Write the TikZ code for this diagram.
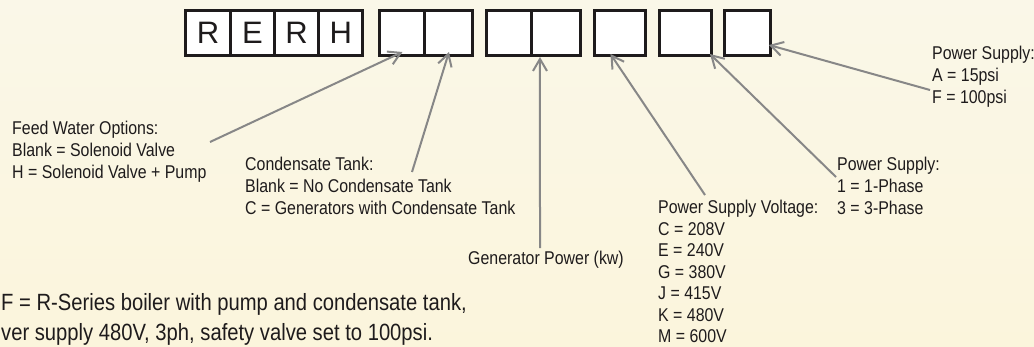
\documentclass[tikz,border=0pt]{standalone}
\usepackage{fontspec}
\setmainfont{Liberation Sans}
\newfontfamily\condfont{Liberation Sans}[FakeStretch=0.86]
\usepackage{tikz}
\usetikzlibrary{arrows.meta, positioning}
\definecolor{bgtop}{RGB}{250,247,232}
\definecolor{bgbot}{RGB}{251,245,220}
\definecolor{ink}{RGB}{30,27,28}
\definecolor{pointer}{RGB}{135,135,135}

\begin{document}
\begin{tikzpicture}[x=1pt, y=-1pt,
    cell/.style={rectangle, draw=ink, line width=3pt, fill=white,
                 minimum height=45pt, inner sep=0pt, outer sep=0pt,
                 font=\fontsize{31}{33}\selectfont, text=ink},
    note/.style={anchor=north west, align=left, inner sep=0pt, text=ink,
                 font=\condfont\fontsize{18.5}{22}\selectfont},
    arrow/.style={-{Straight Barb[length=12pt, width=14pt]}, line width=2pt, draw=pointer}
]
    \useasboundingbox (0,0) rectangle (1034,346);
    \shade[top color=bgtop, bottom color=bgbot] (0,0) rectangle (1034,346);

    \node[cell, minimum width=44.25pt] (c1) at (208.1,32.5) {R};
    \node[cell, minimum width=44.25pt, right=0pt of c1] (c2) {E};
    \node[cell, minimum width=44.25pt, right=0pt of c2] (c3) {R};
    \node[cell, minimum width=44.25pt, right=0pt of c3] (c4) {H};
    \node[cell, minimum width=45pt, right=17pt of c4] (c5) {};
    \node[cell, minimum width=48pt, right=0pt of c5] (c6) {};
    \node[cell, minimum width=45pt, right=14pt of c6] (c7) {};
    \node[cell, minimum width=49pt, right=0pt of c7] (c8) {};
    \node[cell, minimum width=51pt, right=14pt of c8] (c9) {};
    \node[cell, minimum width=52pt, right=14pt of c9] (c10) {};
    \node[cell, minimum width=46pt, right=13pt of c10] (c11) {};

    \node[note] (feed) at (12,120.5) {Feed Water Options:\\Blank = Solenoid Valve\\H = Solenoid Valve + Pump};
    \node[note] (cond) at (245,156.5) {Condensate Tank:\\Blank = No Condensate Tank\\C = Generators with Condensate Tank};
    \node[note, anchor=base] (gen) at (546,264.5) {Generator Power (kw)};
    \node[note, font=\condfont\fontsize{18.5}{21.5}\selectfont] (volt) at (658,200) {Power Supply Voltage:\\C = 208V\\E = 240V\\G = 380V\\J = 415V\\K = 480V\\M = 600V};
    \node[note] (phase) at (837,156.5) {Power Supply:\\1 = 1-Phase\\3 = 3-Phase};
    \node[note] (psi) at (932,45.5) {Power Supply:\\A = 15psi\\F = 100psi};
    \node[note, font=\condfont\fontsize{23.5}{30}\selectfont] (example) at (1,293.5) {F = R-Series boiler with pump and condensate tank,\\ver supply 480V, 3ph, safety valve set to 100psi.};

    \coordinate (feedend) at (210,142);
    \coordinate (condend) at (412,172);
    \coordinate (genend) at (540,248);
    \coordinate (voltend) at (705,195);
    \coordinate (phaseend) at (836,177);
    \coordinate (psiend) at (930,90);
    \draw[arrow] (feedend) -- ([yshift=3pt]c5.south);
    \draw[arrow] (condend) -- ([yshift=3pt]c6.south);
    \draw[arrow] (genend) -- ([xshift=-16.5pt, yshift=-2pt]c8.south);
    \draw[arrow] (voltend) -- ([xshift=-10pt, yshift=1pt]c9.south);
    \draw[arrow] (phaseend) -- ([xshift=-2pt, yshift=1pt]c10.south east);
    \draw[arrow] (psiend) -- ([xshift=-2pt, yshift=-12.5pt]c11.east);
\end{tikzpicture}
\end{document}
